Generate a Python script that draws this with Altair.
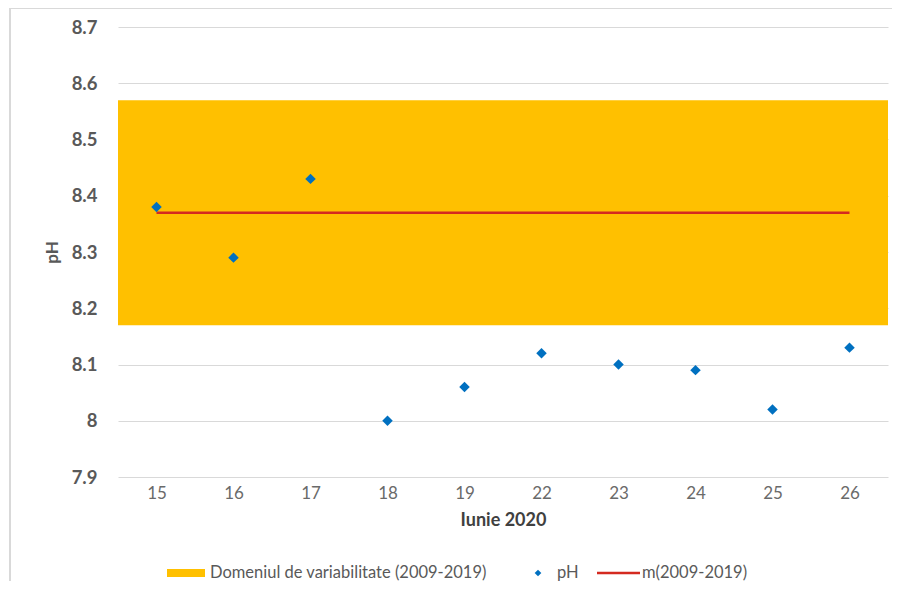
import altair as alt
import pandas as pd

days = ["15", "16", "17", "18", "19", "22", "23", "24", "25", "26"]
ph_values = [8.38, 8.29, 8.43, 8.00, 8.06, 8.12, 8.10, 8.09, 8.02, 8.13]
mean_value = 8.37
band_low = 8.17
band_high = 8.57
y_ticks = [7.9, 8.0, 8.1, 8.2, 8.3, 8.4, 8.5, 8.6, 8.7]
legend_labels = ["Domeniul de variabilitate (2009-2019)", "pH", "m(2009-2019)"]

YELLOW = "#FFC000"
BLUE = "#0070C0"
RED = "#D42A20"
GRAY = "#595959"
FONT = "Lato"

df = pd.DataFrame({"day": days, "ph": ph_values, "mean": [mean_value] * len(days)})
band_df = pd.DataFrame({"low": [band_low], "high": [band_high]})
one = pd.DataFrame({"k": [0]})

x_axis = alt.Axis(title="Iunie 2020", labelAngle=0, labelFont=FONT, labelFontSize=17,
                  labelColor="#6A6A6A", labelPadding=8, ticks=False, domain=False, grid=False,
                  titleFont=FONT, titleFontSize=18, titleFontWeight="bold",
                  titleColor="#404040", titlePadding=10)
x_enc = alt.X("day:O", sort=days, scale=alt.Scale(type="point", padding=0.5), axis=x_axis)

y_scale = alt.Scale(domain=[7.9, 8.7], nice=False, zero=False)
y_axis = alt.Axis(title="pH", values=y_ticks, format=".1~f", labelFont=FONT, labelFontSize=18.5,
                  labelFontWeight="bold", labelColor=GRAY, labelPadding=21, ticks=False,
                  domain=False, grid=True, gridColor="#D9D9D9", gridWidth=1.2,
                  titleFont=FONT, titleFontSize=17, titleFontWeight="bold",
                  titleColor=GRAY, titlePadding=10)

band = alt.Chart(band_df).mark_rect(color=YELLOW).encode(
    x=alt.value(0), x2=alt.value("width"),
    y=alt.Y("low:Q", scale=y_scale, axis=y_axis), y2="high:Q")

line = alt.Chart(df).mark_line(color=RED, strokeWidth=2.5).encode(
    x=x_enc, y=alt.Y("mean:Q", scale=y_scale, axis=y_axis))

points = alt.Chart(df).mark_point(shape="diamond", filled=True, color=BLUE, size=110, opacity=1).encode(
    x=x_enc, y=alt.Y("ph:Q", scale=y_scale, axis=y_axis))

frame = alt.Chart(one).mark_rect(filled=False, stroke="#D9D9D9", strokeWidth=2).encode(
    x=alt.value(-108), x2=alt.value(790), y=alt.value(-19), y2=alt.value(600))

leg_y = 546
leg_rect = alt.Chart(one).mark_rect(color=YELLOW).encode(
    x=alt.value(49), x2=alt.value(87), y=alt.value(leg_y - 4), y2=alt.value(leg_y + 4))
leg_t1 = alt.Chart(one).mark_text(align="left", baseline="middle", font=FONT, fontSize=16.5, color=GRAY).encode(
    x=alt.value(92), y=alt.value(leg_y), text=alt.value(legend_labels[0]))
leg_pt = alt.Chart(one).mark_point(shape="diamond", filled=True, color=BLUE, size=45, opacity=1).encode(
    x=alt.value(420), y=alt.value(leg_y))
leg_t2 = alt.Chart(one).mark_text(align="left", baseline="middle", font=FONT, fontSize=16.5, color=GRAY).encode(
    x=alt.value(439), y=alt.value(leg_y), text=alt.value(legend_labels[1]))
leg_line = alt.Chart(one).mark_rule(color=RED, strokeWidth=2.5).encode(
    x=alt.value(479), x2=alt.value(522), y=alt.value(leg_y))
leg_t3 = alt.Chart(one).mark_text(align="left", baseline="middle", font=FONT, fontSize=16.5, color=GRAY).encode(
    x=alt.value(524), y=alt.value(leg_y), text=alt.value(legend_labels[2]))

chart = alt.layer(band, line, points, frame, leg_rect, leg_t1, leg_pt, leg_t2, leg_line, leg_t3).properties(
    width=770, height=450,
    autosize=alt.AutoSizeParams(type="none"),
    padding={"left": 110, "top": 19, "right": 4, "bottom": 104},
    background="white",
).configure_view(stroke=None)

chart.save("out.html", embed_options={"renderer": "svg", "actions": False})
